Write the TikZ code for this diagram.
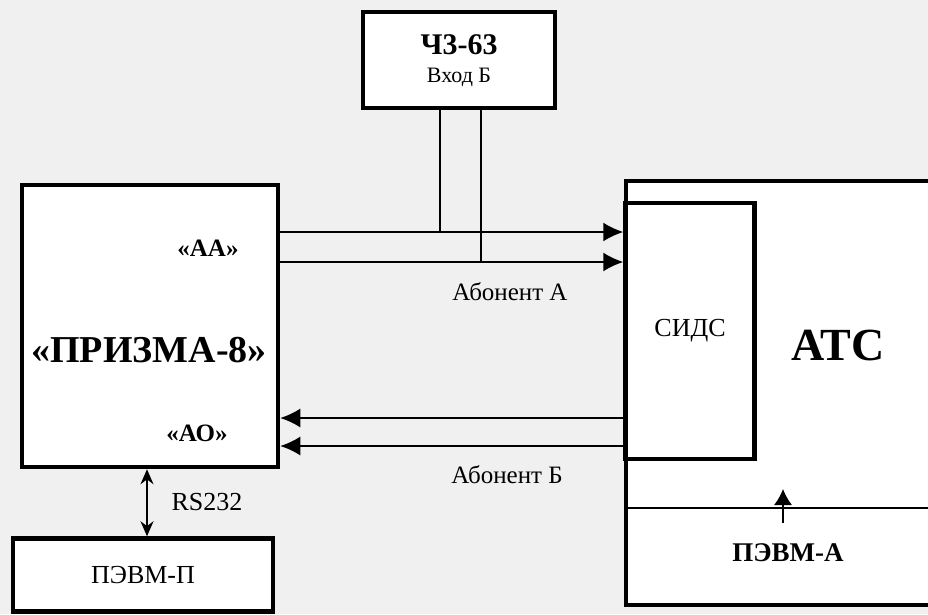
\documentclass[tikz,border=0pt]{standalone}
\usepackage{fontspec}
\setmainfont{Liberation Serif}
\usetikzlibrary{arrows.meta,positioning}

\newcommand{\fsz}[1]{\fontsize{#1}{#1}\selectfont}

\tikzset{
  blok/.style={draw, line width=4.5pt, fill=white, inner sep=0pt},
  sig/.style={line width=1.6pt, -{Latex[length=20pt,width=19pt]}},
  wire/.style={line width=1.6pt},
}

\begin{document}
\begin{tikzpicture}[x=1pt,y=-1pt]
    \useasboundingbox (0,0) rectangle (928,614);
    \fill[black!6] (0,0) rectangle (928,614);

    % Blocks
    \node[blok, minimum width=192pt, minimum height=96pt] (chz) at (459,60) {};
    \node[font=\fsz{30}\bfseries] (chzname) at (459,45) {Ч3-63};
    \node[font=\fsz{22}] (chzin) at (459,77) {Вход Б};
    \node[blok, minimum width=256pt, minimum height=282pt] (prisma) at (150,326) {};
    \node[font=\fsz{25}\bfseries] (aa) at (208,248) {«АА»};
    \node[font=\fsz{38}\bfseries] (pname) at (149,350) {«ПРИЗМА-8»};
    \node[font=\fsz{25}\bfseries] (ao) at (197,433) {«АО»};

    % ATS (right edge lies beyond the picture)
    \coordinate (atcNW) at (626,181);
    \coordinate (atcSW) at (626,605);
    \filldraw[line width=4.5pt, fill=white] (928,181) -- (atcNW) -- (atcSW) -- (928,605);
    \node[blok, minimum width=129pt, minimum height=256pt, font=\fsz{26}] (sids) at (690,331) {СИДС};
    \node[font=\fsz{46}\bfseries] (atc) at (838,345) {АТС};
    \coordinate (sep) at (626,508);
    \draw[line width=1.2pt] (sep) -- (928,508);
    \node[font=\fsz{27}\bfseries] (pevma) at (788,553) {ПЭВМ-А};
    \coordinate (upA) at (783,523);
    \draw[line width=1.4pt, -{Latex[length=16pt,width=18pt]}] (upA) -- (783,489);

    % PC
    \node[blok, minimum width=260pt, minimum height=73pt, font=\fsz{26}] (pevmp) at (143,575) {ПЭВМ-П};

    % Subscriber lines
    \coordinate (a1) at (0,232);
    \coordinate (a2) at (0,262);
    \coordinate (b1) at (0,418);
    \coordinate (b2) at (0,446);
    \draw[sig] (prisma.east |- a1) -- (sids.west |- a1);
    \draw[sig] (prisma.east |- a2) -- (sids.west |- a2);
    \draw[sig] (sids.west |- b1) -- (prisma.east |- b1);
    \draw[sig] (sids.west |- b2) -- (prisma.east |- b2);
    \node[font=\fsz{25}] (abA) at (510,292) {Абонент А};
    \node[font=\fsz{25}] (abB) at (507,475) {Абонент Б};

    % Taps to the counter
    \coordinate (t1) at (440,0);
    \coordinate (t2) at (481,0);
    \draw[wire] (chz.south -| t1) -- (t1 |- a1);
    \draw[wire] (chz.south -| t2) -- (t2 |- a2);

    % RS232
    \coordinate (rs) at (147,0);
    \draw[line width=1.4pt, {Stealth[length=15pt,width=13pt]}-{Stealth[length=15pt,width=13pt]}]
        (prisma.south -| rs) -- (pevmp.north -| rs);
    \node[font=\fsz{26}] (rslab) at (207,502) {RS232};

\end{tikzpicture}
\end{document}
